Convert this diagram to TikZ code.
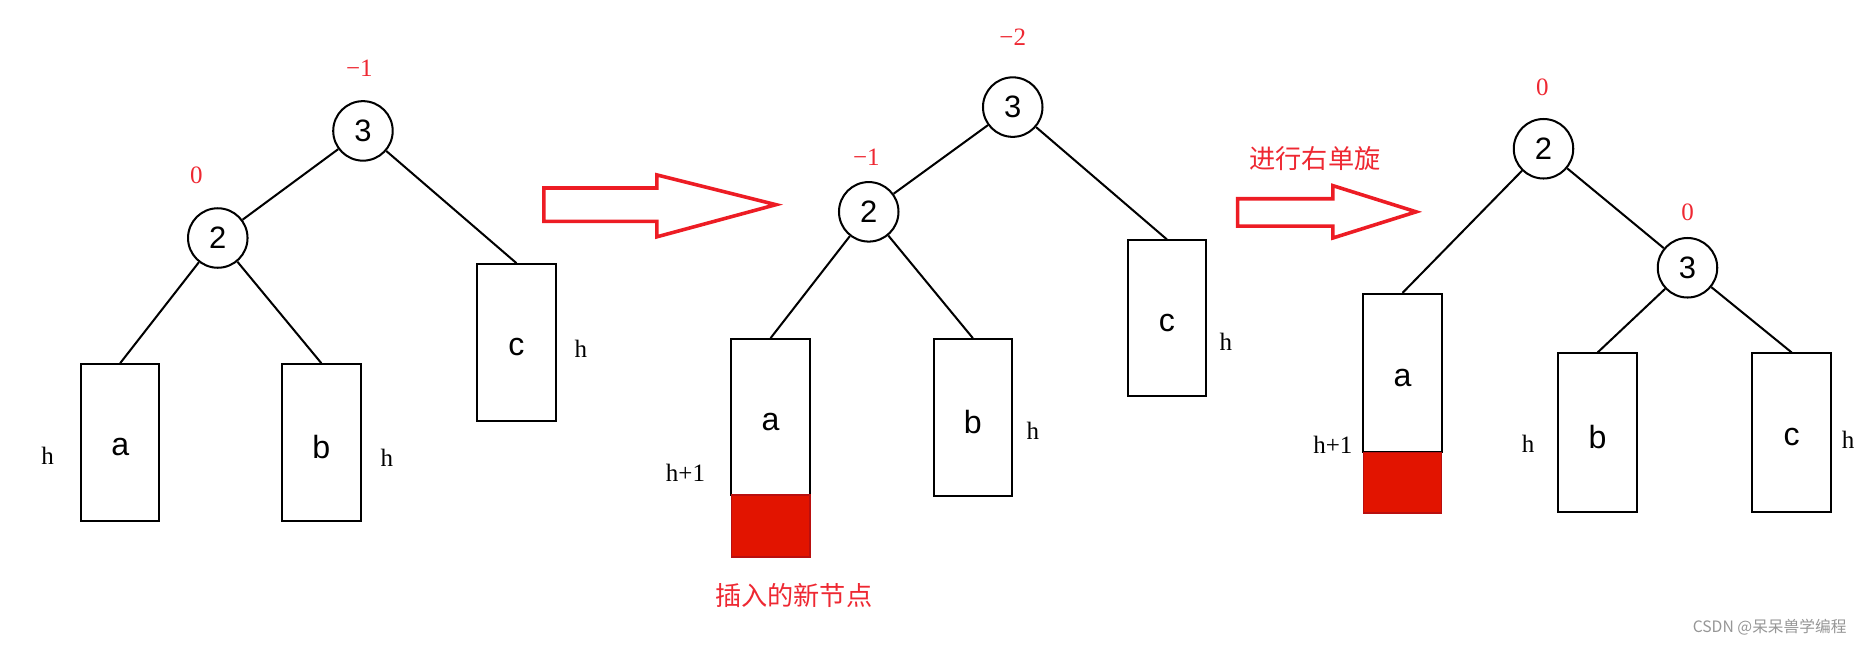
\documentclass[tikz,border=0pt]{standalone}
\usepackage{fontspec}
\setmainfont{Liberation Serif}
\newfontfamily\arialf{Liberation Sans}
\newfontfamily\cjk{Noto Sans CJK SC}
\definecolor{redtxt}{RGB}{238,40,50}
\definecolor{arrowred}{RGB}{237,28,36}
\definecolor{blockfill}{RGB}{226,20,0}
\definecolor{blockdraw}{RGB}{185,15,15}
\definecolor{wmgray}{RGB}{150,150,150}
\newcommand{\lowbox}[1]{\raisebox{-4pt}[\height][\depth]{#1}}
\begin{document}
\begin{tikzpicture}[x=1pt,y=-1pt,
  tn/.style={circle, draw, line width=1.7pt, minimum size=50pt, inner sep=0pt, fill=white, font=\arialf\fontsize{26}{26}\selectfont},
  bx/.style={rectangle, draw, line width=1.7pt, minimum width=66pt, minimum height=132pt, inner sep=0pt, font=\arialf\fontsize{27}{27}\selectfont},
  redblock/.style={rectangle, draw=blockdraw, fill=blockfill, line width=1.2pt, minimum width=66pt, minimum height=52pt, inner sep=0pt},
  bf/.style={text=redtxt, inner sep=0pt, font=\fontsize{21}{21}\selectfont},
  hl/.style={inner sep=0pt, font=\fontsize{21}{21}\selectfont},
  cn/.style={text=redtxt, inner sep=0pt, font=\cjk\fontsize{22}{22}\selectfont},
  edge/.style={line width=1.7pt},
  bigarrow/.style={draw=arrowred, line width=3pt, line join=miter}]
\useasboundingbox (0,0) rectangle (1568,545);

% ---------- Tree 1 ----------
\node[tn] (t1n3) at (305,110) {3};
\node[tn] (t1n2) at (183,200) {2};
\node[bx, minimum height=132pt] (t1a) at (101,372) {\lowbox{a}};
\node[bx, minimum height=132pt] (t1b) at (270,372) {\lowbox{b}};
\node[bx, minimum height=132pt] (t1c) at (434,288) {\lowbox{c}};
\node[bf] (t1f3) at (302,57) {−1};
\node[bf] (t1f2) at (165,147) {0};
\node[hl] (t1ha) at (40,383) {h};
\node[hl] (t1hb) at (325,385) {h};
\node[hl] (t1hc) at (488,293) {h};
\draw[edge] (t1n3) -- (t1n2);
\draw[edge] (t1n3) -- (t1c.north);
\draw[edge] (t1n2) -- (t1a.north);
\draw[edge] (t1n2) -- (t1b.north);

% ---------- Arrow 1 ----------
\draw[bigarrow] (457,158) -- (552,158) -- (552,147) -- (652,172) -- (552,199) -- (552,186) -- (457,186) -- cycle;

% ---------- Tree 2 ----------
\node[tn] (t2n3) at (851,90) {3};
\node[tn] (t2n2) at (730,178) {2};
\node[bx, minimum height=131pt] (t2a) at (647.5,350.5) {\lowbox{a}};
\node[redblock] (t2new) at (647.5,442) {};
\node[bx, minimum height=132pt] (t2b) at (817.5,351) {\lowbox{b}};
\node[bx, minimum height=131pt] (t2c) at (980.5,267.5) {\lowbox{c}};
\node[bf] (t2f3) at (851,31) {−2};
\node[bf] (t2f2) at (728,132) {−1};
\node[hl] (t2ha) at (576,397) {h+1};
\node[hl] (t2hb) at (868,362) {h};
\node[hl] (t2hc) at (1030,287) {h};
\node[cn] (t2lbl) at (667,500) {插入的新节点};
\draw[edge] (t2n3) -- (t2n2);
\draw[edge] (t2n3) -- (t2c.north);
\draw[edge] (t2n2) -- (t2a.north);
\draw[edge] (t2n2) -- (t2b.north);

% ---------- Arrow 2 ----------
\draw[bigarrow] (1040,167) -- (1120,167) -- (1120,156) -- (1190,178) -- (1120,200) -- (1120,190) -- (1040,190) -- cycle;
\node[cn] (rotlbl) at (1105,133) {进行右单旋};

% ---------- Tree 3 ----------
\node[tn] (t3n2) at (1297,125) {2};
\node[tn] (t3n3) at (1418,225) {3};
\node[bx, minimum height=133pt] (t3a) at (1178.5,313.5) {\lowbox{a}};
\node[redblock, minimum height=51pt] (t3new) at (1178.5,405.5) {};
\node[bx, minimum height=133pt] (t3b) at (1342.5,363.5) {\lowbox{b}};
\node[bx, minimum height=133pt] (t3c) at (1505.5,363.5) {\lowbox{c}};
\node[bf] (t3f2) at (1296,73) {0};
\node[bf] (t3f3) at (1418,178) {0};
\node[hl] (t3ha) at (1120,374) {h+1};
\node[hl] (t3hb) at (1284,373) {h};
\node[hl] (t3hc) at (1553,370) {h};
\draw[edge] (t3n2) -- (t3a.north);
\draw[edge] (t3n2) -- (t3n3);
\draw[edge] (t3n3) -- (t3b.north);
\draw[edge] (t3n3) -- (t3c.north);

% ---------- Watermark ----------
\node[text=wmgray, inner sep=0pt, font=\cjk\fontsize{13.2}{13.2}\selectfont] (wm) at (1487,527) {CSDN @呆呆兽学编程};
\end{tikzpicture}
\end{document}
